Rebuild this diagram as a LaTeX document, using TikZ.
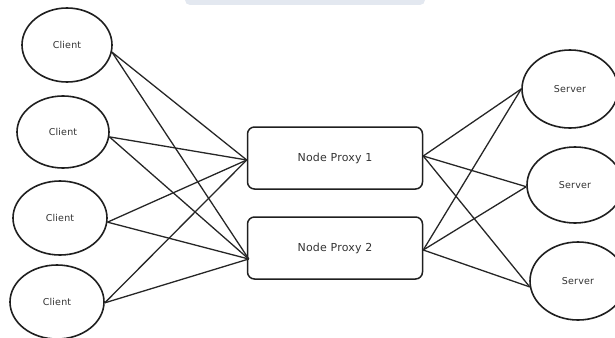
\documentclass[tikz,border=0pt]{standalone}
\usepackage{fontspec}
\usetikzlibrary{shapes.geometric}
\setmainfont[LetterSpace=2]{DejaVu Sans}
\begin{document}
\begin{tikzpicture}[x=1pt,y=-1pt,
  every node/.style={font=\fontsize{9.5}{11}\selectfont\color{black!80}},
  host/.style={draw=black!88, line width=1.6pt, ellipse, inner sep=0pt},
  proxy/.style={draw=black!88, line width=1.5pt, rounded corners=7pt, minimum width=175pt, minimum height=62pt,
    font=\fontsize{11}{13}\selectfont\color{black!80}},
  link/.style={draw=black!85, line width=1.3pt}]
\useasboundingbox (0,0) rectangle (615,337);
% faint bar along the top edge
\fill[fill={rgb,255:red,227;green,232;blue,240}, rounded corners=5pt] (185,-20) rectangle (425,5);

% clients
\node[host, minimum width=90pt, minimum height=74pt] (c1) at (67,45) {Client};
\node[host, minimum width=92pt, minimum height=72pt] (c2) at (63,132) {Client};
\node[host, minimum width=94pt, minimum height=74pt] (c3) at (60,218) {Client};
\node[host, minimum width=94pt, minimum height=74pt] (c4) at (57,302) {Client};

% proxies
\node[proxy] (p1) at (335,158) {Node Proxy 1};
\node[proxy] (p2) at (335,248) {Node Proxy 2};
\coordinate (p1w) at ([yshift=-2pt]p1.west);
\coordinate (p2w) at ([xshift=2pt,yshift=-11pt]p2.west);
\coordinate (p1e) at ([yshift=2pt]p1.east);
\coordinate (p2e) at ([yshift=-2pt]p2.east);

% servers
\node[host, minimum width=96pt, minimum height=78pt] (s1) at (570,89) {Server};
\node[host, minimum width=96pt, minimum height=76pt] (s2) at (575,185) {Server};
\node[host, minimum width=96pt, minimum height=78pt] (s3) at (578,281) {Server};

% client side links
\foreach \c/\a in {c1/-9,c2/-6,c3/-5,c4/-1}{
  \draw[link] (\c.\a) -- (p1w);
  \draw[link] (\c.\a) -- (p2w);
}
% server side links
\foreach \s/\a in {s1/180,s2/182,s3/187}{
  \draw[link] (p1e) -- (\s.\a);
  \draw[link] (p2e) -- (\s.\a);
}
\end{tikzpicture}
\end{document}
